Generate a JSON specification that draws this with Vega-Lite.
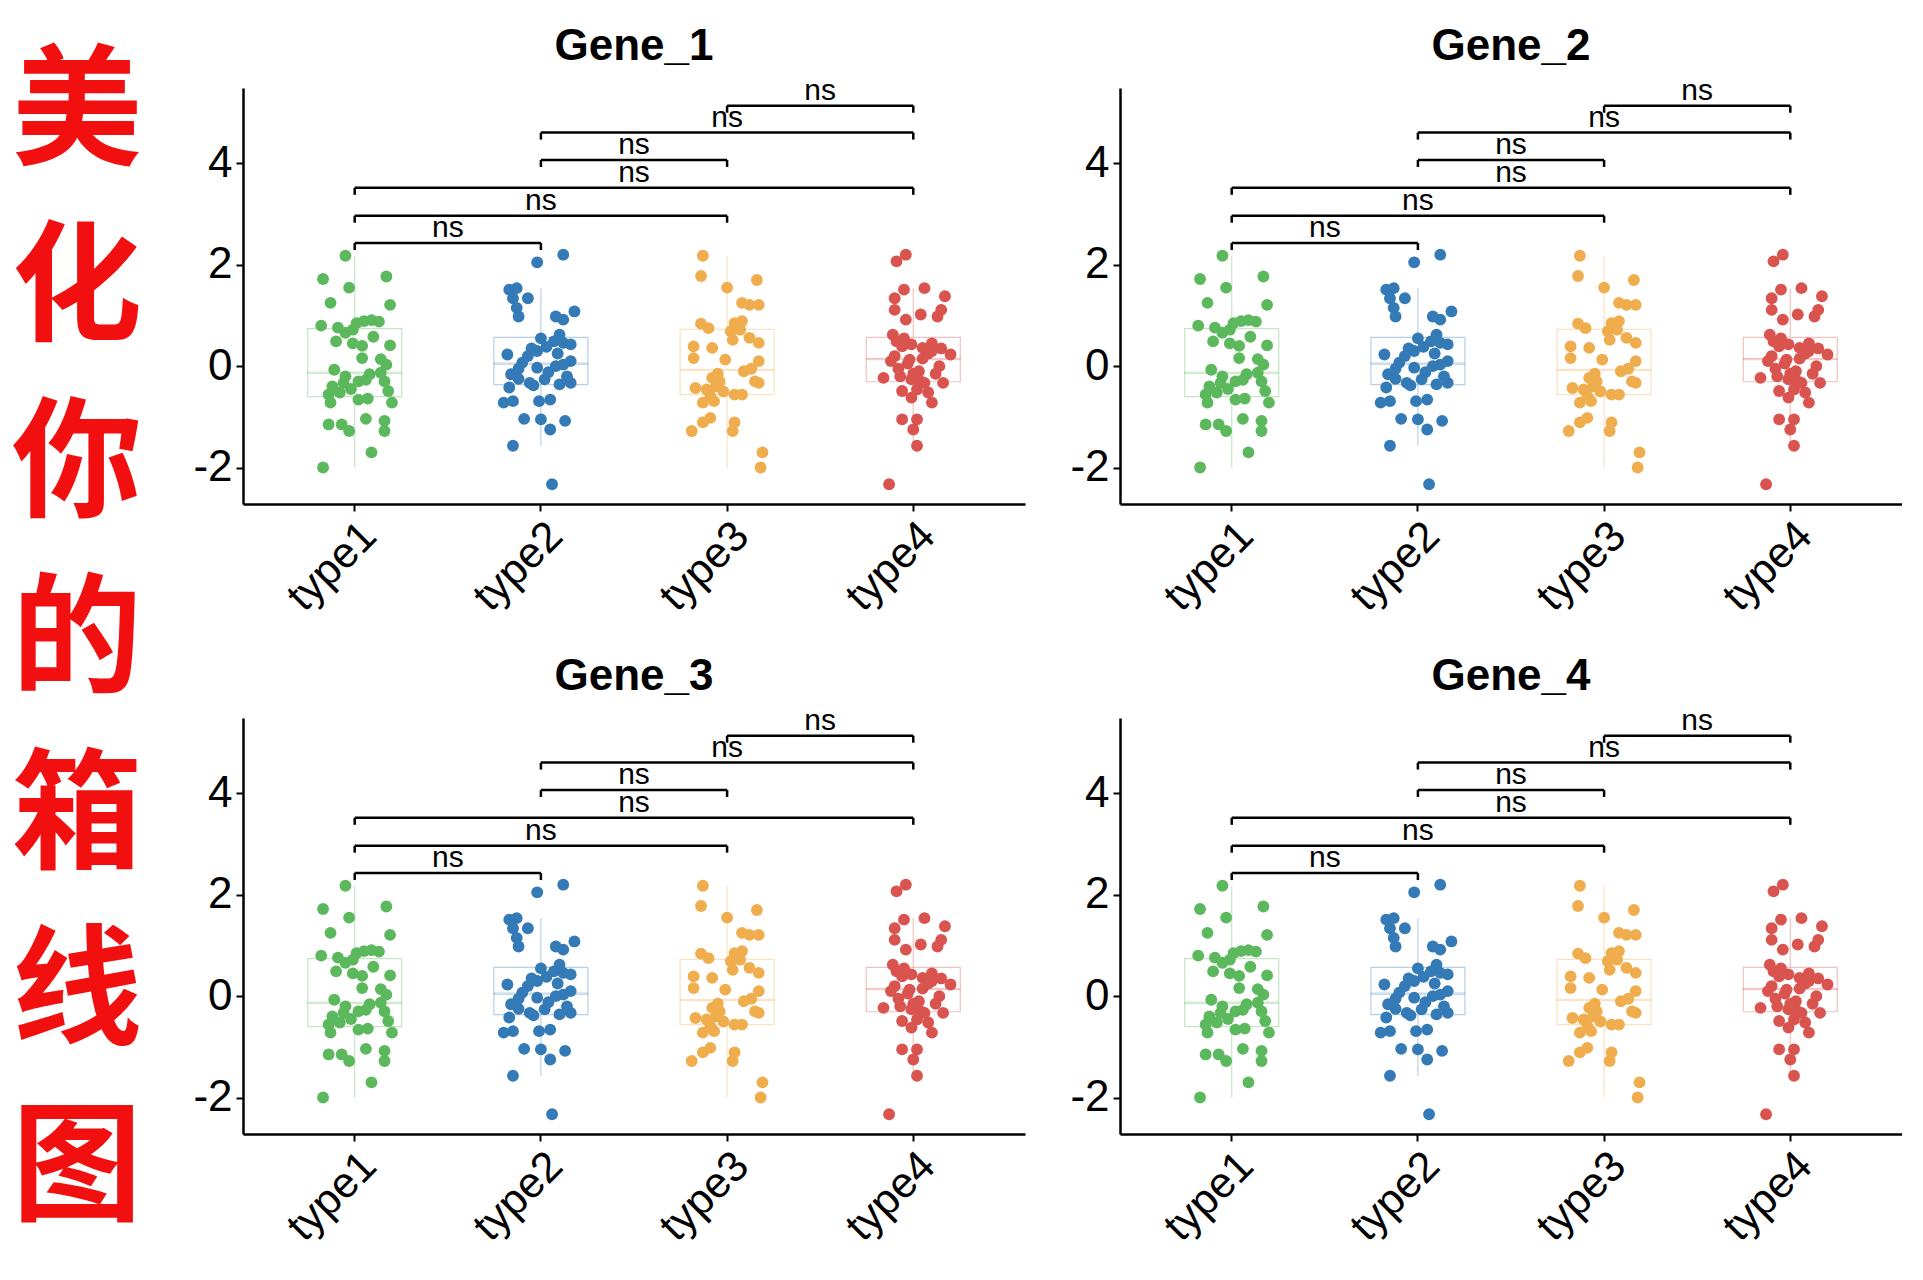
{
  "$schema": "https://vega.github.io/schema/vega-lite/v6.json",
  "background": "white",
  "padding": {"left": 0, "top": 24, "right": 0, "bottom": 0},
  "datasets": {
    "zi": [{"c": "美", "n": 1}, {"c": "化", "n": 2}, {"c": "你", "n": 3}, {"c": "的", "n": 4}, {"c": "箱", "n": 5}, {"c": "线", "n": 6}, {"c": "图", "n": 7}],
    "cmp": [
      {"a": 1, "b": 2, "y": 2.43, "p": "ns"},
      {"a": 1, "b": 3, "y": 2.97, "p": "ns"},
      {"a": 1, "b": 4, "y": 3.52, "p": "ns"},
      {"a": 2, "b": 3, "y": 4.07, "p": "ns"},
      {"a": 2, "b": 4, "y": 4.61, "p": "ns"},
      {"a": 3, "b": 4, "y": 5.14, "p": "ns"}
    ],
    "pts": [
      {"t": "type1", "j": -0.05, "v": 2.18}, {"t": "type1", "j": -0.17, "v": 1.72}, {"t": "type1", "j": 0.17, "v": 1.77}, {"t": "type1", "j": -0.03, "v": 1.55},
      {"t": "type1", "j": -0.13, "v": 1.25}, {"t": "type1", "j": 0.19, "v": 1.21}, {"t": "type1", "j": -0.18, "v": 0.80}, {"t": "type1", "j": -0.09, "v": 0.76},
      {"t": "type1", "j": -0.05, "v": 0.66}, {"t": "type1", "j": 0.01, "v": 0.85}, {"t": "type1", "j": 0.05, "v": 0.89}, {"t": "type1", "j": 0.09, "v": 0.91},
      {"t": "type1", "j": 0.13, "v": 0.88}, {"t": "type1", "j": -0.01, "v": 0.72}, {"t": "type1", "j": 0.10, "v": 0.58}, {"t": "type1", "j": -0.10, "v": 0.49},
      {"t": "type1", "j": -0.01, "v": 0.45}, {"t": "type1", "j": 0.04, "v": 0.40}, {"t": "type1", "j": 0.19, "v": 0.41}, {"t": "type1", "j": 0.04, "v": 0.16},
      {"t": "type1", "j": 0.14, "v": 0.14}, {"t": "type1", "j": 0.17, "v": 0.03}, {"t": "type1", "j": -0.11, "v": -0.07}, {"t": "type1", "j": 0.08, "v": -0.16},
      {"t": "type1", "j": 0.14, "v": -0.13}, {"t": "type1", "j": -0.05, "v": -0.20}, {"t": "type1", "j": -0.06, "v": -0.33}, {"t": "type1", "j": -0.12, "v": -0.40},
      {"t": "type1", "j": 0.02, "v": -0.30}, {"t": "type1", "j": 0.06, "v": -0.27}, {"t": "type1", "j": 0.16, "v": -0.30}, {"t": "type1", "j": 0.18, "v": -0.49},
      {"t": "type1", "j": -0.14, "v": -0.56}, {"t": "type1", "j": -0.08, "v": -0.52}, {"t": "type1", "j": -0.02, "v": -0.45}, {"t": "type1", "j": 0.02, "v": -0.66},
      {"t": "type1", "j": 0.07, "v": -0.64}, {"t": "type1", "j": -0.13, "v": -0.72}, {"t": "type1", "j": 0.20, "v": -0.72}, {"t": "type1", "j": -0.14, "v": -1.15},
      {"t": "type1", "j": -0.07, "v": -1.15}, {"t": "type1", "j": -0.03, "v": -1.28}, {"t": "type1", "j": 0.06, "v": -1.04}, {"t": "type1", "j": 0.16, "v": -1.08},
      {"t": "type1", "j": 0.16, "v": -1.28}, {"t": "type1", "j": 0.09, "v": -1.70}, {"t": "type1", "j": -0.17, "v": -2.00},

      {"t": "type2", "j": 0.12, "v": 2.20}, {"t": "type2", "j": -0.02, "v": 2.05}, {"t": "type2", "j": -0.17, "v": 1.51}, {"t": "type2", "j": -0.13, "v": 1.54},
      {"t": "type2", "j": -0.15, "v": 1.34}, {"t": "type2", "j": -0.07, "v": 1.34}, {"t": "type2", "j": -0.13, "v": 1.15},
      {"t": "type2", "j": -0.12, "v": 0.98}, {"t": "type2", "j": 0.18, "v": 1.08}, {"t": "type2", "j": 0.08, "v": 0.98},
      {"t": "type2", "j": 0.12, "v": 0.92}, {"t": "type2", "j": 0.10, "v": 0.62}, {"t": "type2", "j": 0.07, "v": 0.49}, {"t": "type2", "j": 0.12, "v": 0.46},
      {"t": "type2", "j": 0.16, "v": 0.43}, {"t": "type2", "j": 0.03, "v": 0.38}, {"t": "type2", "j": -0.02, "v": 0.30}, {"t": "type2", "j": -0.07, "v": 0.20},
      {"t": "type2", "j": -0.18, "v": 0.23}, {"t": "type2", "j": -0.10, "v": 0.07}, {"t": "type2", "j": 0.16, "v": 0.10}, {"t": "type2", "j": 0.12, "v": 0.03},
      {"t": "type2", "j": -0.02, "v": -0.03}, {"t": "type2", "j": -0.16, "v": -0.16}, {"t": "type2", "j": 0.04, "v": -0.12}, {"t": "type2", "j": -0.06, "v": -0.33},
      {"t": "type2", "j": 0.02, "v": -0.26}, {"t": "type2", "j": 0.16, "v": -0.33}, {"t": "type2", "j": -0.17, "v": -0.42}, {"t": "type2", "j": -0.04, "v": -0.38},
      {"t": "type2", "j": 0.10, "v": -0.36}, {"t": "type2", "j": 0.05, "v": -0.66}, {"t": "type2", "j": -0.20, "v": -0.72}, {"t": "type2", "j": -0.15, "v": -0.69},
      {"t": "type2", "j": -0.01, "v": -0.69}, {"t": "type2", "j": -0.09, "v": -1.04}, {"t": "type2", "j": 0.00, "v": -1.05}, {"t": "type2", "j": 0.05, "v": -1.25},
      {"t": "type2", "j": 0.13, "v": -1.08}, {"t": "type2", "j": -0.15, "v": -1.57}, {"t": "type2", "j": 0.06, "v": -2.33}, {"t": "type2", "j": 0.09, "v": 0.25},
      {"t": "type2", "j": -0.12, "v": -0.25}, {"t": "type2", "j": 0.00, "v": 0.55}, {"t": "type2", "j": -0.05, "v": 0.35}, {"t": "type2", "j": 0.08, "v": 0.00},
      {"t": "type2", "j": -0.12, "v": -0.05}, {"t": "type2", "j": 0.14, "v": -0.20},

      {"t": "type3", "j": -0.13, "v": 2.18}, {"t": "type3", "j": -0.14, "v": 1.78}, {"t": "type3", "j": 0.16, "v": 1.70}, {"t": "type3", "j": 0.00, "v": 1.55},
      {"t": "type3", "j": 0.08, "v": 1.25}, {"t": "type3", "j": 0.12, "v": 1.21}, {"t": "type3", "j": 0.17, "v": 1.21}, {"t": "type3", "j": -0.14, "v": 0.84},
      {"t": "type3", "j": -0.10, "v": 0.75}, {"t": "type3", "j": 0.04, "v": 0.85}, {"t": "type3", "j": 0.08, "v": 0.89}, {"t": "type3", "j": 0.02, "v": 0.69},
      {"t": "type3", "j": 0.07, "v": 0.72}, {"t": "type3", "j": 0.12, "v": 0.56}, {"t": "type3", "j": 0.17, "v": 0.46}, {"t": "type3", "j": 0.03, "v": 0.52},
      {"t": "type3", "j": -0.18, "v": 0.39}, {"t": "type3", "j": -0.08, "v": 0.36}, {"t": "type3", "j": -0.18, "v": 0.16}, {"t": "type3", "j": -0.01, "v": 0.13},
      {"t": "type3", "j": 0.17, "v": 0.10}, {"t": "type3", "j": 0.09, "v": -0.10}, {"t": "type3", "j": 0.13, "v": -0.05}, {"t": "type3", "j": -0.08, "v": -0.23},
      {"t": "type3", "j": -0.04, "v": -0.30}, {"t": "type3", "j": 0.17, "v": -0.33}, {"t": "type3", "j": -0.17, "v": -0.43}, {"t": "type3", "j": -0.11, "v": -0.46},
      {"t": "type3", "j": -0.06, "v": -0.40}, {"t": "type3", "j": -0.09, "v": -0.59}, {"t": "type3", "j": -0.02, "v": -0.50}, {"t": "type3", "j": 0.04, "v": -0.56},
      {"t": "type3", "j": 0.08, "v": -0.56}, {"t": "type3", "j": -0.13, "v": -0.72}, {"t": "type3", "j": -0.07, "v": -0.69}, {"t": "type3", "j": -0.09, "v": -1.02},
      {"t": "type3", "j": -0.13, "v": -1.11}, {"t": "type3", "j": -0.19, "v": -1.28}, {"t": "type3", "j": 0.04, "v": -1.11}, {"t": "type3", "j": 0.03, "v": -1.28},
      {"t": "type3", "j": 0.19, "v": -1.70}, {"t": "type3", "j": 0.18, "v": -2.00}, {"t": "type3", "j": 0.15, "v": -0.30}, {"t": "type3", "j": -0.05, "v": -0.15},

      {"t": "type4", "j": -0.04, "v": 2.20}, {"t": "type4", "j": -0.09, "v": 2.07}, {"t": "type4", "j": -0.05, "v": 1.51}, {"t": "type4", "j": 0.06, "v": 1.54},
      {"t": "type4", "j": 0.17, "v": 1.38}, {"t": "type4", "j": -0.10, "v": 1.34}, {"t": "type4", "j": -0.10, "v": 1.11}, {"t": "type4", "j": 0.04, "v": 1.02},
      {"t": "type4", "j": 0.15, "v": 1.11}, {"t": "type4", "j": 0.13, "v": 0.98}, {"t": "type4", "j": -0.04, "v": 0.92}, {"t": "type4", "j": -0.11, "v": 0.62},
      {"t": "type4", "j": -0.09, "v": 0.49}, {"t": "type4", "j": -0.06, "v": 0.39}, {"t": "type4", "j": -0.01, "v": 0.43}, {"t": "type4", "j": 0.05, "v": 0.36},
      {"t": "type4", "j": 0.10, "v": 0.30}, {"t": "type4", "j": 0.20, "v": 0.23}, {"t": "type4", "j": -0.10, "v": 0.20}, {"t": "type4", "j": -0.02, "v": 0.13},
      {"t": "type4", "j": 0.14, "v": 0.00}, {"t": "type4", "j": 0.03, "v": -0.10}, {"t": "type4", "j": -0.16, "v": -0.23}, {"t": "type4", "j": -0.07, "v": -0.20},
      {"t": "type4", "j": -0.01, "v": -0.26}, {"t": "type4", "j": 0.06, "v": -0.33}, {"t": "type4", "j": 0.16, "v": -0.33}, {"t": "type4", "j": -0.06, "v": -0.49},
      {"t": "type4", "j": 0.02, "v": -0.46}, {"t": "type4", "j": 0.08, "v": -0.52}, {"t": "type4", "j": -0.01, "v": -0.62}, {"t": "type4", "j": 0.10, "v": -0.72},
      {"t": "type4", "j": -0.06, "v": -1.05}, {"t": "type4", "j": 0.02, "v": -1.05}, {"t": "type4", "j": 0.00, "v": -1.25}, {"t": "type4", "j": 0.02, "v": -1.57},
      {"t": "type4", "j": -0.13, "v": -2.33}, {"t": "type4", "j": 0.10, "v": 0.45}, {"t": "type4", "j": -0.03, "v": 0.05}, {"t": "type4", "j": 0.05, "v": 0.15},
      {"t": "type4", "j": -0.08, "v": -0.05}, {"t": "type4", "j": 0.12, "v": -0.15}, {"t": "type4", "j": 0.08, "v": 0.25}, {"t": "type4", "j": -0.12, "v": 0.10},
      {"t": "type4", "j": 0.00, "v": -0.15}, {"t": "type4", "j": 0.15, "v": 0.35}, {"t": "type4", "j": -0.05, "v": 0.55}, {"t": "type4", "j": 0.04, "v": -0.30}
    ]
  },
  "hconcat": [
    {
      "width": 154,
      "height": 1100,
      "data": {"name": "zi"},
      "mark": {"type": "text", "fontSize": 130, "font": "Noto Sans CJK SC", "fontWeight": "bold", "color": "#F20F0F", "baseline": "middle", "align": "center"},
      "encoding": {
        "y": {"field": "n", "type": "quantitative", "axis": null, "scale": {"domain": [0.8466, 7.0966], "reverse": true, "nice": false, "zero": false}},
        "x": {"datum": "t", "type": "nominal", "axis": null, "scale": {"type": "point", "padding": 0.5}},
        "text": {"field": "c"}
      }
    },
    {
      "columns": 2,
      "spacing": {"column": 35, "row": 35},
      "concat": [
        {
          "title": "Gene_1",
          "width": 782, "height": 416,
          "resolve": {"scale": {"x": "independent"}},
          "layer": [
            {
              "data": {"name": "pts"},
              "encoding": {
                "x": {"field": "t", "type": "nominal", "title": null, "scale": {"type": "band", "paddingInner": 0, "paddingOuter": 0.1, "domain": ["type1", "type2", "type3", "type4"]}},
                "y": {"field": "v", "type": "quantitative", "title": null, "scale": {"domain": [-2.72, 5.49], "nice": false, "zero": false}, "axis": {"values": [-2, 0, 2, 4], "labelExpr": "'' + datum.value"}},
                "color": {"field": "t", "type": "nominal", "legend": null, "scale": {"domain": ["type1", "type2", "type3", "type4"], "range": ["#5CB85C", "#337AB7", "#F0AD4E", "#D9534F"]}}
              },
              "layer": [
                {"mark": {"type": "boxplot", "size": 94, "extent": 1.5, "outliers": false, "ticks": false, "box": {"filled": false, "strokeWidth": 1.2, "opacity": 0.35}, "median": {"opacity": 0.35, "thickness": 1.2}, "rule": {"strokeWidth": 1.2, "opacity": 0.35}},
                 "encoding": {"stroke": {"field": "t", "type": "nominal", "legend": null, "scale": {"domain": ["type1", "type2", "type3", "type4"], "range": ["#5CB85C", "#337AB7", "#F0AD4E", "#D9534F"]}}}},
                {"mark": {"type": "circle", "size": 140, "opacity": 1}, "encoding": {"xOffset": {"field": "j", "type": "quantitative", "scale": {"domain": [-0.5, 0.5]}}}}
              ]
            },
            {
              "data": {"name": "cmp"},
              "encoding": {"y": {"field": "y", "type": "quantitative", "title": null, "axis": {"values": [-2, 0, 2, 4], "labelExpr": "'' + datum.value"}, "scale": {"domain": [-2.72, 5.49], "nice": false, "zero": false}}},
              "layer": [
                {"mark": {"type": "rule", "color": "black", "strokeWidth": 2.5}, "encoding": {"x": {"field": "a", "type": "quantitative", "axis": null, "scale": {"domain": [0.4, 4.6], "nice": false, "zero": false}}, "x2": {"field": "b"}}},
                {"transform": [{"fold": ["a", "b"], "as": ["k", "pos"]}], "mark": {"type": "rule", "color": "black", "strokeWidth": 2.5, "y2Offset": 7}, "encoding": {"x": {"field": "pos", "type": "quantitative", "axis": null, "scale": {"domain": [0.4, 4.6], "nice": false, "zero": false}}, "y2": {"field": "y"}}},
                {"transform": [{"fold": ["a", "b"], "as": ["k", "pos"]}], "mark": {"type": "text", "fontSize": 30, "font": "Liberation Sans", "color": "black", "baseline": "alphabetic", "dy": -6}, "encoding": {"x": {"aggregate": "mean", "field": "pos", "type": "quantitative", "axis": null, "scale": {"domain": [0.4, 4.6], "nice": false, "zero": false}}, "text": {"field": "p"}}}
              ]
            }
          ]
        },
        {
          "title": "Gene_2",
          "width": 782, "height": 416,
          "resolve": {"scale": {"x": "independent"}},
          "layer": [
            {
              "data": {"name": "pts"},
              "encoding": {
                "x": {"field": "t", "type": "nominal", "title": null, "scale": {"type": "band", "paddingInner": 0, "paddingOuter": 0.1, "domain": ["type1", "type2", "type3", "type4"]}},
                "y": {"field": "v", "type": "quantitative", "title": null, "scale": {"domain": [-2.72, 5.49], "nice": false, "zero": false}, "axis": {"values": [-2, 0, 2, 4], "labelExpr": "'' + datum.value"}},
                "color": {"field": "t", "type": "nominal", "legend": null, "scale": {"domain": ["type1", "type2", "type3", "type4"], "range": ["#5CB85C", "#337AB7", "#F0AD4E", "#D9534F"]}}
              },
              "layer": [
                {"mark": {"type": "boxplot", "size": 94, "extent": 1.5, "outliers": false, "ticks": false, "box": {"filled": false, "strokeWidth": 1.2, "opacity": 0.35}, "median": {"opacity": 0.35, "thickness": 1.2}, "rule": {"strokeWidth": 1.2, "opacity": 0.35}},
                 "encoding": {"stroke": {"field": "t", "type": "nominal", "legend": null, "scale": {"domain": ["type1", "type2", "type3", "type4"], "range": ["#5CB85C", "#337AB7", "#F0AD4E", "#D9534F"]}}}},
                {"mark": {"type": "circle", "size": 140, "opacity": 1}, "encoding": {"xOffset": {"field": "j", "type": "quantitative", "scale": {"domain": [-0.5, 0.5]}}}}
              ]
            },
            {
              "data": {"name": "cmp"},
              "encoding": {"y": {"field": "y", "type": "quantitative", "title": null, "axis": {"values": [-2, 0, 2, 4], "labelExpr": "'' + datum.value"}, "scale": {"domain": [-2.72, 5.49], "nice": false, "zero": false}}},
              "layer": [
                {"mark": {"type": "rule", "color": "black", "strokeWidth": 2.5}, "encoding": {"x": {"field": "a", "type": "quantitative", "axis": null, "scale": {"domain": [0.4, 4.6], "nice": false, "zero": false}}, "x2": {"field": "b"}}},
                {"transform": [{"fold": ["a", "b"], "as": ["k", "pos"]}], "mark": {"type": "rule", "color": "black", "strokeWidth": 2.5, "y2Offset": 7}, "encoding": {"x": {"field": "pos", "type": "quantitative", "axis": null, "scale": {"domain": [0.4, 4.6], "nice": false, "zero": false}}, "y2": {"field": "y"}}},
                {"transform": [{"fold": ["a", "b"], "as": ["k", "pos"]}], "mark": {"type": "text", "fontSize": 30, "font": "Liberation Sans", "color": "black", "baseline": "alphabetic", "dy": -6}, "encoding": {"x": {"aggregate": "mean", "field": "pos", "type": "quantitative", "axis": null, "scale": {"domain": [0.4, 4.6], "nice": false, "zero": false}}, "text": {"field": "p"}}}
              ]
            }
          ]
        },
        {
          "title": "Gene_3",
          "width": 782, "height": 416,
          "resolve": {"scale": {"x": "independent"}},
          "layer": [
            {
              "data": {"name": "pts"},
              "encoding": {
                "x": {"field": "t", "type": "nominal", "title": null, "scale": {"type": "band", "paddingInner": 0, "paddingOuter": 0.1, "domain": ["type1", "type2", "type3", "type4"]}},
                "y": {"field": "v", "type": "quantitative", "title": null, "scale": {"domain": [-2.72, 5.49], "nice": false, "zero": false}, "axis": {"values": [-2, 0, 2, 4], "labelExpr": "'' + datum.value"}},
                "color": {"field": "t", "type": "nominal", "legend": null, "scale": {"domain": ["type1", "type2", "type3", "type4"], "range": ["#5CB85C", "#337AB7", "#F0AD4E", "#D9534F"]}}
              },
              "layer": [
                {"mark": {"type": "boxplot", "size": 94, "extent": 1.5, "outliers": false, "ticks": false, "box": {"filled": false, "strokeWidth": 1.2, "opacity": 0.35}, "median": {"opacity": 0.35, "thickness": 1.2}, "rule": {"strokeWidth": 1.2, "opacity": 0.35}},
                 "encoding": {"stroke": {"field": "t", "type": "nominal", "legend": null, "scale": {"domain": ["type1", "type2", "type3", "type4"], "range": ["#5CB85C", "#337AB7", "#F0AD4E", "#D9534F"]}}}},
                {"mark": {"type": "circle", "size": 140, "opacity": 1}, "encoding": {"xOffset": {"field": "j", "type": "quantitative", "scale": {"domain": [-0.5, 0.5]}}}}
              ]
            },
            {
              "data": {"name": "cmp"},
              "encoding": {"y": {"field": "y", "type": "quantitative", "title": null, "axis": {"values": [-2, 0, 2, 4], "labelExpr": "'' + datum.value"}, "scale": {"domain": [-2.72, 5.49], "nice": false, "zero": false}}},
              "layer": [
                {"mark": {"type": "rule", "color": "black", "strokeWidth": 2.5}, "encoding": {"x": {"field": "a", "type": "quantitative", "axis": null, "scale": {"domain": [0.4, 4.6], "nice": false, "zero": false}}, "x2": {"field": "b"}}},
                {"transform": [{"fold": ["a", "b"], "as": ["k", "pos"]}], "mark": {"type": "rule", "color": "black", "strokeWidth": 2.5, "y2Offset": 7}, "encoding": {"x": {"field": "pos", "type": "quantitative", "axis": null, "scale": {"domain": [0.4, 4.6], "nice": false, "zero": false}}, "y2": {"field": "y"}}},
                {"transform": [{"fold": ["a", "b"], "as": ["k", "pos"]}], "mark": {"type": "text", "fontSize": 30, "font": "Liberation Sans", "color": "black", "baseline": "alphabetic", "dy": -6}, "encoding": {"x": {"aggregate": "mean", "field": "pos", "type": "quantitative", "axis": null, "scale": {"domain": [0.4, 4.6], "nice": false, "zero": false}}, "text": {"field": "p"}}}
              ]
            }
          ]
        },
        {
          "title": "Gene_4",
          "width": 782, "height": 416,
          "resolve": {"scale": {"x": "independent"}},
          "layer": [
            {
              "data": {"name": "pts"},
              "encoding": {
                "x": {"field": "t", "type": "nominal", "title": null, "scale": {"type": "band", "paddingInner": 0, "paddingOuter": 0.1, "domain": ["type1", "type2", "type3", "type4"]}},
                "y": {"field": "v", "type": "quantitative", "title": null, "scale": {"domain": [-2.72, 5.49], "nice": false, "zero": false}, "axis": {"values": [-2, 0, 2, 4], "labelExpr": "'' + datum.value"}},
                "color": {"field": "t", "type": "nominal", "legend": null, "scale": {"domain": ["type1", "type2", "type3", "type4"], "range": ["#5CB85C", "#337AB7", "#F0AD4E", "#D9534F"]}}
              },
              "layer": [
                {"mark": {"type": "boxplot", "size": 94, "extent": 1.5, "outliers": false, "ticks": false, "box": {"filled": false, "strokeWidth": 1.2, "opacity": 0.35}, "median": {"opacity": 0.35, "thickness": 1.2}, "rule": {"strokeWidth": 1.2, "opacity": 0.35}},
                 "encoding": {"stroke": {"field": "t", "type": "nominal", "legend": null, "scale": {"domain": ["type1", "type2", "type3", "type4"], "range": ["#5CB85C", "#337AB7", "#F0AD4E", "#D9534F"]}}}},
                {"mark": {"type": "circle", "size": 140, "opacity": 1}, "encoding": {"xOffset": {"field": "j", "type": "quantitative", "scale": {"domain": [-0.5, 0.5]}}}}
              ]
            },
            {
              "data": {"name": "cmp"},
              "encoding": {"y": {"field": "y", "type": "quantitative", "title": null, "axis": {"values": [-2, 0, 2, 4], "labelExpr": "'' + datum.value"}, "scale": {"domain": [-2.72, 5.49], "nice": false, "zero": false}}},
              "layer": [
                {"mark": {"type": "rule", "color": "black", "strokeWidth": 2.5}, "encoding": {"x": {"field": "a", "type": "quantitative", "axis": null, "scale": {"domain": [0.4, 4.6], "nice": false, "zero": false}}, "x2": {"field": "b"}}},
                {"transform": [{"fold": ["a", "b"], "as": ["k", "pos"]}], "mark": {"type": "rule", "color": "black", "strokeWidth": 2.5, "y2Offset": 7}, "encoding": {"x": {"field": "pos", "type": "quantitative", "axis": null, "scale": {"domain": [0.4, 4.6], "nice": false, "zero": false}}, "y2": {"field": "y"}}},
                {"transform": [{"fold": ["a", "b"], "as": ["k", "pos"]}], "mark": {"type": "text", "fontSize": 30, "font": "Liberation Sans", "color": "black", "baseline": "alphabetic", "dy": -6}, "encoding": {"x": {"aggregate": "mean", "field": "pos", "type": "quantitative", "axis": null, "scale": {"domain": [0.4, 4.6], "nice": false, "zero": false}}, "text": {"field": "p"}}}
              ]
            }
          ]
        }
      ]
    }
  ],
  "spacing": 29,
  "config": {
    "view": {"stroke": null},
    "font": "Liberation Sans",
    "axis": {"grid": false, "domainColor": "black", "domainWidth": 2.5, "tickColor": "black", "tickWidth": 2, "tickSize": 7, "labelColor": "black", "labelFont": "Liberation Sans"},
    "axisY": {"labelFontSize": 44, "labelPadding": 4, "minExtent": 60, "maxExtent": 60},
    "axisX": {"labelFontSize": 43, "labelAngle": -45, "labelAlign": "right", "labelBaseline": "top", "labelPadding": 3, "minExtent": 112},
    "title": {"fontSize": 44, "fontWeight": "bold", "font": "Liberation Sans", "color": "black", "baseline": "alphabetic", "offset": 7, "anchor": "middle"}
  }
}
